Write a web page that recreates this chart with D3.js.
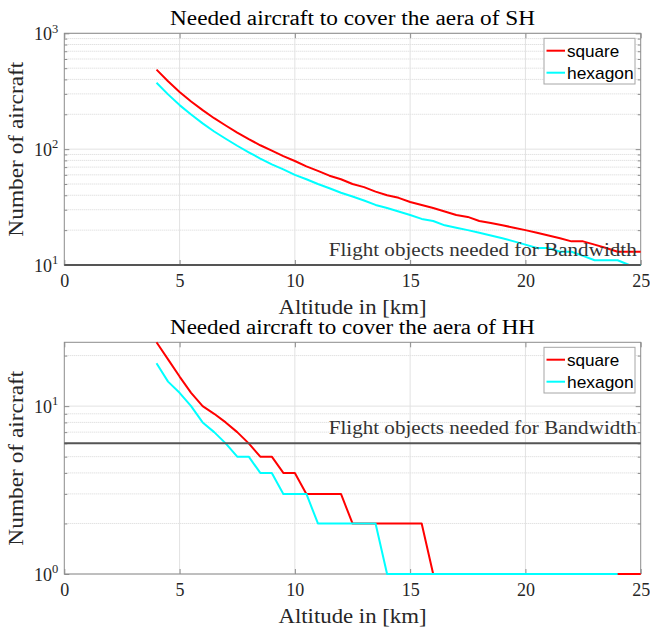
<!DOCTYPE html>
<html><head><meta charset="utf-8">
<script src="https://cdn.jsdelivr.net/npm/d3@7"></script>
<style>body{margin:0;background:#fff}svg{display:block}</style>
</head><body>
<svg id="c" width="650" height="627"></svg>
<script>
// ---------- data ----------
const altitude = [4,4.5,5,5.5,6,6.5,7,7.5,8,8.5,9,9.5,10,10.5,11,11.5,12,12.5,13,13.5,14,14.5,15,15.5,16,16.5,17,17.5,18,18.5,19,19.5,20,20.5,21,21.5,22,22.5,23,23.5,24,24.5,25];
const squareSH  = [486,385,312,258,217,185,160,139,122,108,97,87,79,71,65,59,55,50,47,43,40,38,35,33,31,29,27,26,24,23,22,21,20,19,18,17,16,16,15,14,13,13,13];
const hexagonSH = [374,297,240,199,167,142,123,107,94,83,74,67,60,55,50,46,42,39,36,33,31,29,27,25,24,22,21,20,19,18,17,16,15,14,14,13,13,12,11,11,11,10,10];
const squareHH  = [24,19,15,12,10,9,8,7,6,5,5,4,4,3,3,3,3,2,2,2,2,2,2,2,1,1,1,1,1,1,1,1,1,1,1,1,1,1,1,1,1,1,1];
const hexagonHH = [18,14,12,10,8,7,6,5,5,4,4,3,3,3,2,2,2,2,2,2,1,1,1,1,1,1,1,1,1,1,1,1,1,1,1,1,1,1,1,1,1,0,0];
const bandwidthSH = 10;
const bandwidthHH = 6;
const xTicks = [0,5,10,15,20,25];
const titles = ["Needed aircraft to cover the aera of SH","Needed aircraft to cover the aera of HH"];
const seriesNames = ["square","hexagon"];
const seriesColors = ["#ff0000","#00ffff"];
const xLabel = "Altitude in [km]";
const yLabel = "Number of aircraft";
const bandwidthLabel = "Flight objects needed for Bandwidth";

// ---------- drawing ----------
const svg = d3.select("#c");
const serif = "'Liberation Serif','Times New Roman',serif";
const sans = "'Liberation Sans',Arial,sans-serif";
const X0 = 64.3, X1 = 640.7;
const boxColor = "#8c8c8c", textColor = "#262626";

function fit(t, w){ t.attr("textLength", w).attr("lengthAdjust","spacingAndGlyphs"); return t; }

function drawPanel(p, idx){
  const x = d3.scaleLinear().domain([0,25]).range([X0,X1]);
  const y = d3.scaleLog().domain(p.yDomain).range([p.bottom,p.top]);
  const g = svg.append("g");
  const [lo,hi] = p.yDomain;
  const major=[], minor=[];
  for(let e=Math.floor(Math.log10(lo)); e<=Math.ceil(Math.log10(hi)); e++){
    for(let m=1;m<10;m++){
      const v = +(m*Math.pow(10,e)).toPrecision(6);
      if(v<lo-1e-9 || v>hi+1e-9) continue;
      (m===1?major:minor).push(v);
    }
  }
  // grid
  g.append("g").selectAll("line").data(minor).join("line")
    .attr("x1",X0).attr("x2",X1).attr("y1",d=>y(d)).attr("y2",d=>y(d))
    .attr("stroke","#d6d6d6").attr("stroke-width",1).attr("stroke-dasharray","1,1");
  g.append("g").selectAll("line").data(major).join("line")
    .attr("x1",X0).attr("x2",X1).attr("y1",d=>y(d)).attr("y2",d=>y(d))
    .attr("stroke","#e2e2e2").attr("stroke-width",1);
  g.append("g").selectAll("line").data(xTicks.slice(1,-1)).join("line")
    .attr("x1",d=>x(d)).attr("x2",d=>x(d)).attr("y1",p.top).attr("y2",p.bottom)
    .attr("stroke","#e2e2e2").attr("stroke-width",1);

  // box
  g.append("rect").attr("x",X0).attr("y",p.top).attr("width",X1-X0).attr("height",p.bottom-p.top)
    .attr("fill","none").attr("stroke",boxColor).attr("stroke-width",1);

  // axes ticks
  const styleAxis = sel => { sel.select(".domain").remove(); sel.selectAll("line").attr("stroke",boxColor); };
  const gxB = g.append("g").attr("transform",`translate(0,${p.bottom})`)
    .call(d3.axisBottom(x).tickValues(xTicks).tickSize(-5).tickFormat(d3.format("d")));
  styleAxis(gxB);
  gxB.selectAll("text").attr("y",22).attr("dy",0).attr("fill",textColor)
    .style("font-family",serif).style("font-size","18px");
  const gxT = g.append("g").attr("transform",`translate(0,${p.top})`)
    .call(d3.axisTop(x).tickValues(xTicks).tickSize(-5).tickFormat(""));
  styleAxis(gxT);
  [["L",d3.axisLeft,X0],["R",d3.axisRight,X1]].forEach(([s,ax,pos])=>{
    const gm = g.append("g").attr("transform",`translate(${pos},0)`)
      .call(ax(y).tickValues(major).tickSize(-5).tickFormat(""));
    styleAxis(gm);
    const gn = g.append("g").attr("transform",`translate(${pos},0)`)
      .call(ax(y).tickValues(minor).tickSize(-3).tickFormat(""));
    styleAxis(gn);
  });
  // y tick labels with superscript
  major.forEach(v=>{
    const t = g.append("text").attr("x",X0-6).attr("y",y(v)+6.7).attr("text-anchor","end")
      .attr("fill",textColor).style("font-family",serif).style("font-size","18px");
    t.append("tspan").text("10");
    t.append("tspan").attr("dy",-7.5).style("font-size","12.5px").text(String(Math.round(Math.log10(v))));
  });

  // data lines
  const clipId = "clip"+idx;
  svg.append("clipPath").attr("id",clipId).append("rect")
    .attr("x",X0-2).attr("y",p.top-2).attr("width",X1-X0+4).attr("height",p.bottom-p.top+4);
  const line = d3.line().defined(d=>d.v>0).x(d=>x(d.a)).y(d=>y(d.v));
  [p.square,p.hexagon].forEach((arr,i)=>{
    const pts = altitude.map((a,k)=>({a, v:arr[k]}));
    g.append("path").datum(pts).attr("d",line).attr("clip-path",`url(#${clipId})`)
      .attr("fill","none").attr("stroke",seriesColors[i]).attr("stroke-width",2)
      .attr("stroke-linejoin","round");
  });

  // bandwidth line
  g.append("line").attr("x1",X0).attr("x2",X1).attr("y1",y(p.bandwidth)).attr("y2",y(p.bandwidth))
    .attr("stroke","#555555").attr("stroke-width",2);
  fit(g.append("text").attr("x",X1-4).attr("y",y(p.bandwidth)-9).attr("text-anchor","end")
    .attr("fill","#333333").style("font-family",serif).style("font-size","19px")
    .text(bandwidthLabel), 308);

  // title
  fit(g.append("text").attr("x",(X0+X1)/2).attr("y",p.top-8.3).attr("text-anchor","middle")
    .attr("fill","#000").style("font-family",serif).style("font-size","20px").text(p.title), 365);
  // x label
  fit(g.append("text").attr("x",(X0+X1)/2).attr("y",p.bottom+48.5).attr("text-anchor","middle")
    .attr("fill",textColor).style("font-family",serif).style("font-size","20px").text(xLabel), 148);
  // y label
  fit(g.append("text").attr("transform",`translate(23,${(p.top+p.bottom)/2}) rotate(-90)`)
    .attr("text-anchor","middle").attr("fill",textColor)
    .style("font-family",serif).style("font-size","20px").text(yLabel), 175);

  // legend
  const lg = g.append("g");
  lg.append("rect").attr("x",544).attr("y",p.top+5).attr("width",91).attr("height",45.7)
    .attr("fill","#fff").attr("stroke","#a6a6a6").attr("stroke-width",1);
  const legW = [52.3,66.7];
  seriesNames.forEach((n,i)=>{
    const ly = p.top + 17.4 + i*22;
    lg.append("line").attr("x1",546.5).attr("x2",565).attr("y1",ly).attr("y2",ly)
      .attr("stroke",seriesColors[i]).attr("stroke-width",2);
    fit(lg.append("text").attr("x",567).attr("y",ly+6.6).attr("fill","#000")
      .style("font-family",sans).style("font-size","17px").text(n), legW[i]);
  });
}

drawPanel({top:33.3,bottom:265,yDomain:[10,1000],square:squareSH,hexagon:hexagonSH,bandwidth:bandwidthSH,title:titles[0]},0);
drawPanel({top:342.3,bottom:574,yDomain:[1,24],square:squareHH,hexagon:hexagonHH,bandwidth:bandwidthHH,title:titles[1]},1);
</script>
</body></html>
